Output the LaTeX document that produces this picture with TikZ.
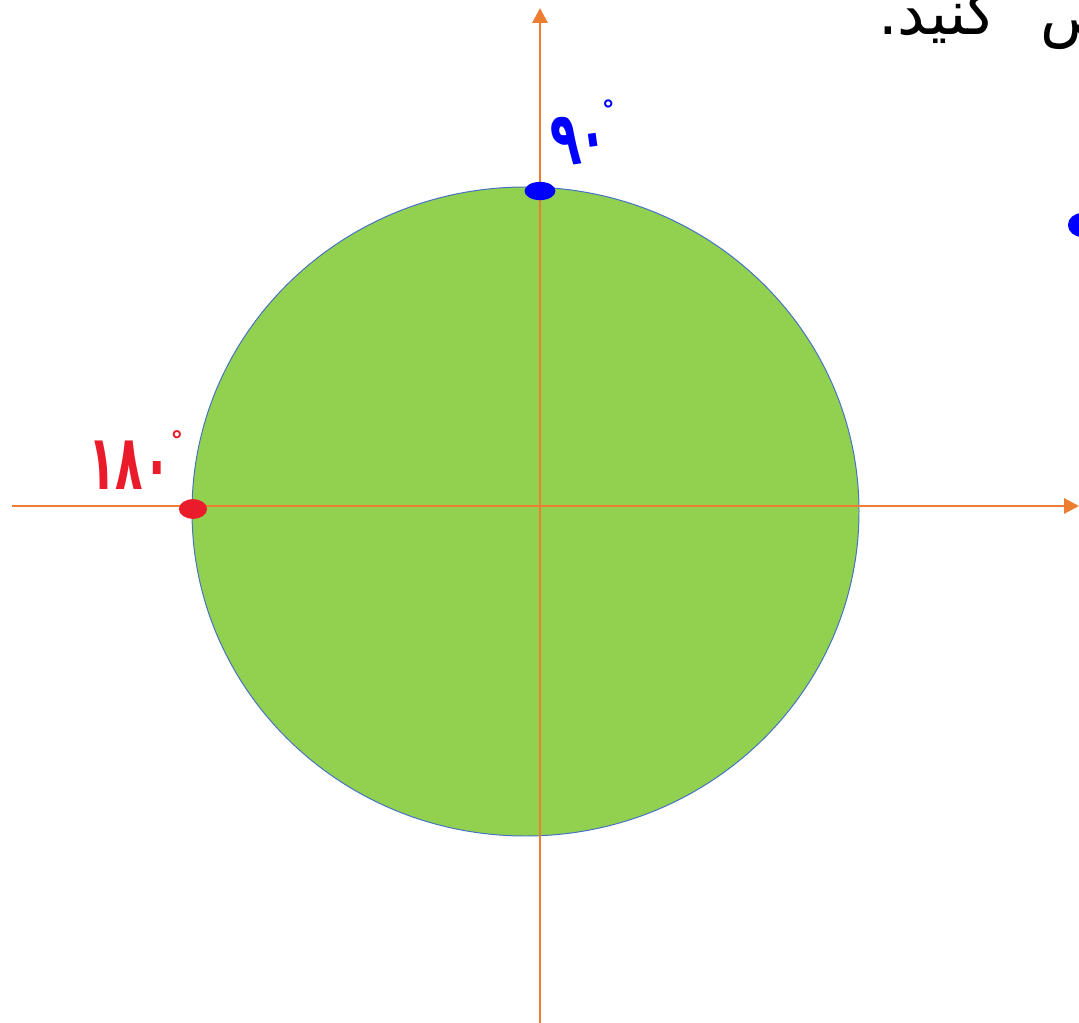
\documentclass[tikz,border=0pt]{standalone}
\usepackage{fontspec}
\usetikzlibrary{arrows.meta,shapes.geometric}
\TeXXeTstate=1
\newfontfamily\arabicfont[Script=Arabic]{DejaVu Sans}
\definecolor{axisorange}{HTML}{ED7D31}
\definecolor{discgreen}{HTML}{92D050}
\definecolor{rimblue}{HTML}{4472C4}
\definecolor{inkblue}{HTML}{0000FF}
\definecolor{inkred}{HTML}{EA1C2C}
\newcommand{\tall}[1]{\scalebox{1}[1.7]{#1}}
\newcommand{\degmark}{\raisebox{0.9em}{\fontsize{18}{18}\selectfont°}}

\begin{document}
\begin{tikzpicture}[x=0.025cm,y=-0.025cm,
  axis/.style={axisorange,line width=2.1pt,-{Triangle[length=10.5pt,width=10.5pt]}},
  blob/.style={ellipse,fill=#1,inner sep=0pt},
  ink/.style={font=\arabicfont\bfseries\fontsize{32}{32}\selectfont,inner sep=0pt}]
  \useasboundingbox (0,0) rectangle (1079,1023);
  \def\cx{525.5}\def\cy{511.5}
  \fill[discgreen,draw=rimblue,line width=0.7pt] (\cx,\cy) ellipse [x radius=333.5, y radius=324.5];
  % axes
  \coordinate (xl) at (12,506); \coordinate (xr) at (1079,506);
  \coordinate (yb) at (540,1023); \coordinate (yt) at (540,8);
  \draw[axis] (xl)--(xr);
  \draw[axis] (yb)--(yt);
  % marked points
  \node[blob=inkblue,minimum width=22pt,minimum height=13pt] (p90) at (540,191) {};
  \node[blob=inkred,minimum width=20pt,minimum height=14pt] (p180) at (193,509) {};
  \node[blob=inkblue,minimum width=20pt,minimum height=17pt] (edge) at (1082,225) {};
  \node[ink,inkblue,rotate=8,anchor=south west] (l90) at (555,168) {\tall{۹۰}\degmark};
  \node[ink,inkred,anchor=south west] (l180) at (88,490) {\tall{۱۸۰}\degmark};
  % cut-off instruction
  \node[anchor=base west,inner sep=0pt,font=\fontsize{44}{44}\selectfont] (task) at (878,35)
    {\arabicfont\beginR مشخص\hspace{0.7em}کنید.\endR};
\end{tikzpicture}
\end{document}
